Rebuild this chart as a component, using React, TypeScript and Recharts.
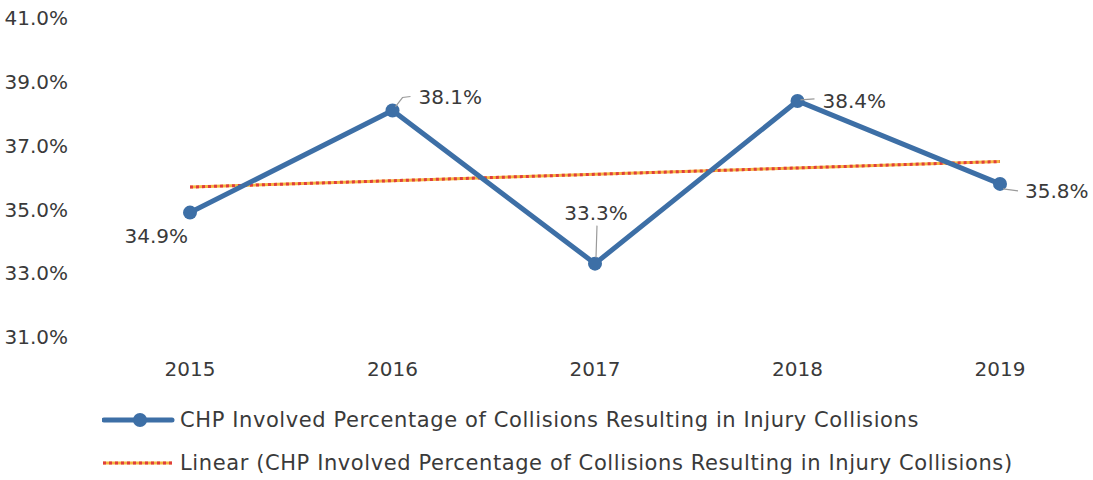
import { LineChart, Line, XAxis, YAxis, LabelList } from "recharts";

const years = ["2015", "2016", "2017", "2018", "2019"];
const injuryPct = [34.9, 38.1, 33.3, 38.4, 35.8];
// linear trendline
const trendPct = [35.7, 35.9, 36.1, 36.3, 36.5];
const yTicks = [31, 33, 35, 37, 39, 41];

const seriesName = "CHP Involved Percentage of Collisions Resulting in Injury Collisions";
const trendName = `Linear (${seriesName})`;

const BLUE = "#3d6fa6";
const TEXT = "#3a3a3a";
const TREND_DOT = "#e03c3f";
const TREND_GAP = "#f4b73e";
const FONT = "'DejaVu Sans', sans-serif";

const data = years.map((year, i) => ({ year, value: injuryPct[i], trend: trendPct[i] }));

// where each data label sits relative to its point, and whether it gets a leader line
const labelPlacement = [
  { dx: -2, dy: 23, anchor: "end", leader: null },
  { dx: 26, dy: -14, anchor: "start", leader: [[3, -4], [10, -13], [18, -14]] },
  { dx: 1, dy: -51, anchor: "middle", leader: [[1, -6], [2, -38]] },
  { dx: 25, dy: 0, anchor: "start", leader: [[3, -1], [17, -2]] },
  { dx: 25, dy: 7, anchor: "start", leader: [[3, 5], [18, 7]] },
];

function PointLabel(props: any) {
  const { x, y, index, value } = props;
  const p = labelPlacement[index];
  return (
    <g>
      {p.leader && (
        <polyline
          points={p.leader.map(([a, b]) => `${x + a},${y + b}`).join(" ")}
          fill="none"
          stroke="#9a9a9a"
          strokeWidth={1.2}
        />
      )}
      <text
        x={x + p.dx}
        y={y + p.dy}
        textAnchor={p.anchor}
        dominantBaseline="central"
        fontSize={20}
        fontFamily={FONT}
        fill={TEXT}
      >
        {value.toFixed(1)}%
      </text>
    </g>
  );
}

function ChartLegend() {
  return (
    <div style={{ fontFamily: FONT, fontSize: 21, letterSpacing: 0.6, color: TEXT }}>
      <div style={{ display: "flex", alignItems: "center", height: 43 }}>
        <svg width={78} height={20} style={{ marginLeft: 102 }}>
          <line x1={2} y1={10} x2={70} y2={10} stroke={BLUE} strokeWidth={5} strokeLinecap="round" />
          <circle cx={38} cy={10} r={7} fill={BLUE} />
        </svg>
        <span>{seriesName}</span>
      </div>
      <div style={{ display: "flex", alignItems: "center", height: 43 }}>
        <svg width={78} height={20} style={{ marginLeft: 102 }}>
          <line x1={1} y1={10} x2={70} y2={10} stroke={TREND_GAP} strokeWidth={3} />
          <line x1={1} y1={10} x2={70} y2={10} stroke={TREND_DOT} strokeWidth={3} strokeDasharray="3 3" />
        </svg>
        <span>{trendName}</span>
      </div>
    </div>
  );
}

export default function App() {
  return (
    <div style={{ position: "absolute", left: 0, top: 0, width: 1093, height: 480, background: "#fff" }}>
      <LineChart width={1093} height={480} data={data} margin={{ top: 18, right: 8, bottom: 113, left: 0 }}>
        <XAxis
          dataKey="year"
          height={30}
          padding={{ left: 102, right: 85 }}
          axisLine={false}
          tickLine={false}
          tickSize={0}
          tickMargin={25}
          tick={{ fontSize: 20, fill: TEXT, fontFamily: FONT }}
        />
        <YAxis
          domain={[31, 41]}
          ticks={yTicks}
          width={88}
          axisLine={false}
          tickLine={false}
          tickSize={0}
          tickMargin={20}
          tickFormatter={(v) => `${v.toFixed(1)}%`}
          tick={{ fontSize: 20, fill: TEXT, fontFamily: FONT }}
        />
        <Line
          dataKey="trend"
          stroke={TREND_GAP}
          strokeWidth={3}
          dot={false}
          isAnimationActive={false}
        />
        <Line
          dataKey="trend"
          stroke={TREND_DOT}
          strokeWidth={3}
          strokeDasharray="3 3"
          dot={false}
          isAnimationActive={false}
        />
        <Line
          dataKey="value"
          stroke={BLUE}
          strokeWidth={5}
          dot={{ r: 7, fill: BLUE, stroke: BLUE, strokeWidth: 0 }}
          activeDot={false}
          isAnimationActive={false}
        >
          <LabelList dataKey="value" content={<PointLabel />} />
        </Line>
      </LineChart>
      <div style={{ position: "absolute", left: 0, top: 398, width: 1093 }}>
        <ChartLegend />
      </div>
    </div>
  );
}
